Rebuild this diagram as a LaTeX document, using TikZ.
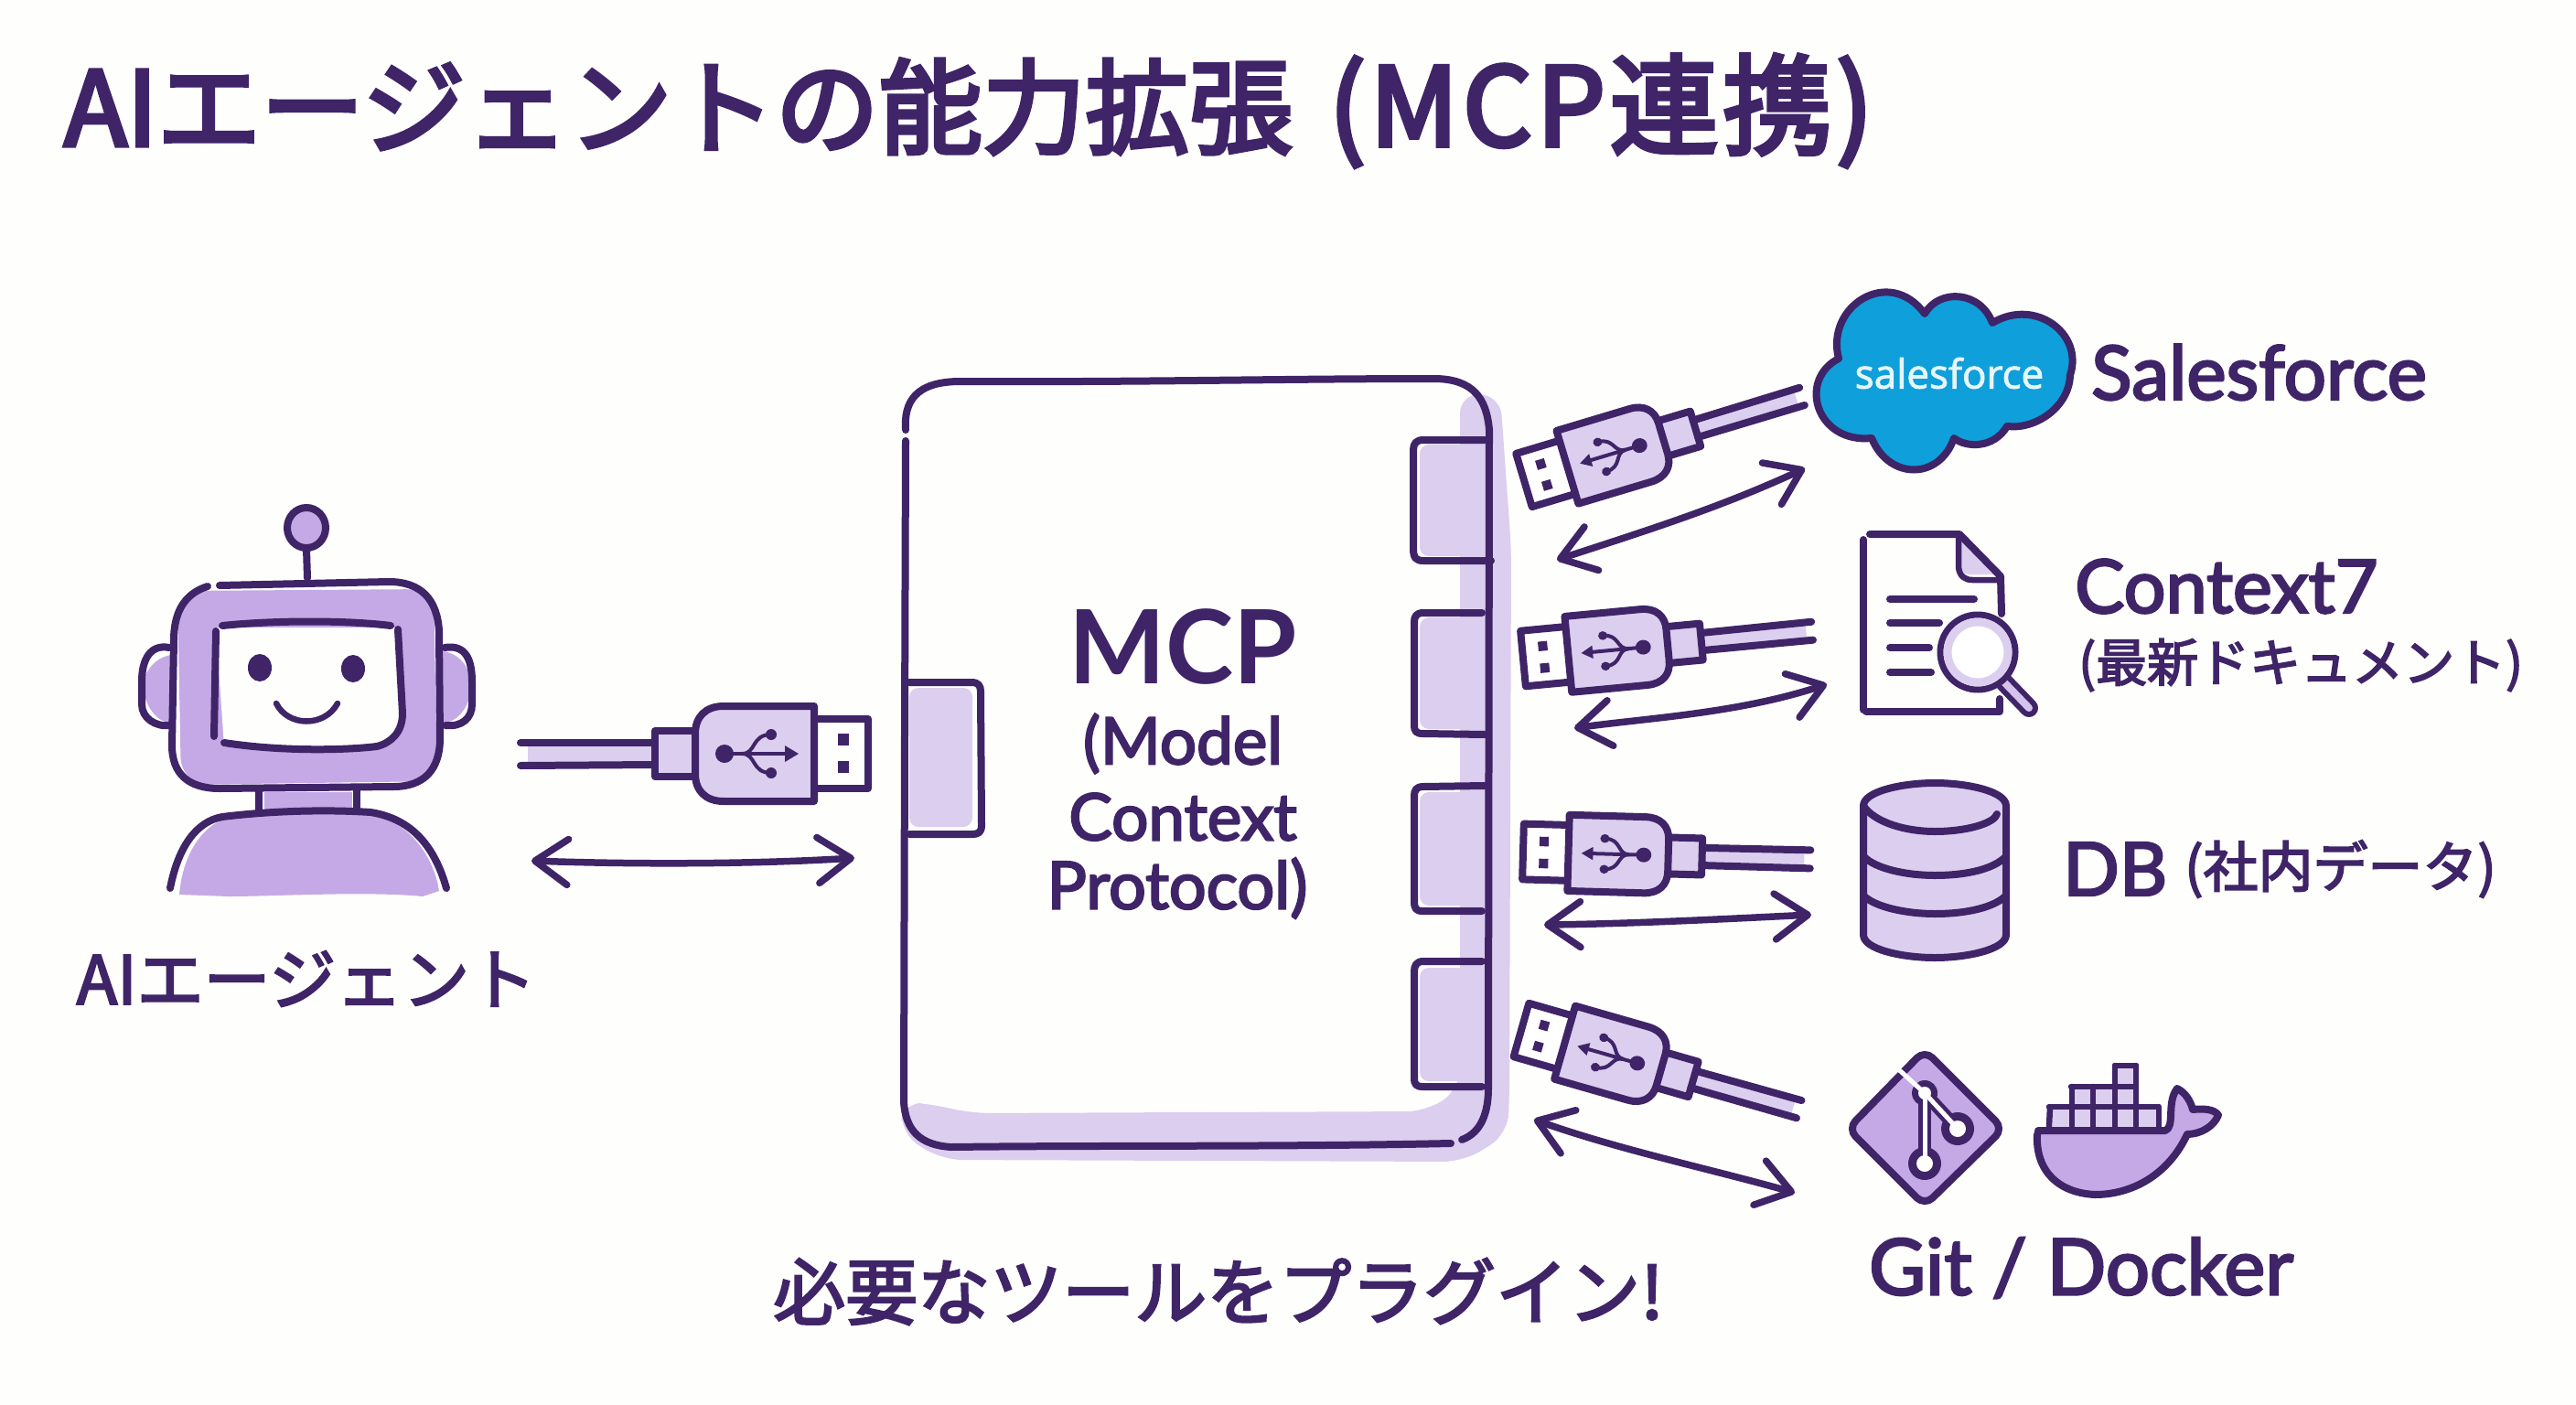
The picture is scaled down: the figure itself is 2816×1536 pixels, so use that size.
\documentclass[tikz,border=0pt]{standalone}
\usepackage{fontspec}
\usetikzlibrary{arrows.meta}
\setmainfont{Lato}
\newfontfamily\jpfont{Noto Sans CJK JP}[FakeBold=3]
\newfontfamily\latmed{Lato}[FakeBold=3]
\newfontfamily\jptitle{Noto Sans CJK JP}[FakeBold=4]
\newfontfamily\jptitlewide{Noto Sans CJK JP}[FakeBold=4,LetterSpace=4]
\newfontfamily\sflogofont{Open Sans}[FakeBold=2]
\definecolor{ink}{HTML}{3F2468}
\definecolor{lilac}{HTML}{C5A9E6}
\definecolor{pale}{HTML}{DCCEEF}
\definecolor{paper}{HTML}{FEFEFC}
\definecolor{sfblue}{HTML}{0F9FDA}
\definecolor{sfwhite}{HTML}{E6F6FB}
\tikzset{
  x=1pt,y=-1pt,
  outl/.style={draw=ink,line width=8pt,line cap=round,line join=round},
  thin outl/.style={draw=ink,line width=6.5pt,line cap=round,line join=round},
  wash/.style={fill=lilac,draw=none},
  palewash/.style={fill=pale,draw=none},
  twoway/.style={ink,line width=7.5pt,line cap=round,line join=round,
    {Straight Barb[length=36pt,width=50pt,round]}-{Straight Barb[length=36pt,width=50pt,round]}},
  label/.style={inner sep=0pt,text=ink,anchor=center},
}
% USB plug: the tip at the origin, the cable running along +x up to #6
\newcommand\usbplug[6]{%
  \begin{scope}[shift={(#1,#2)},rotate=#3,xscale=#4,yscale=#5]
    \fill[pale] (230,-9) rectangle (#6-8,9);
    \draw[outl,fill=white] (59,-38) -- (0,-38) -- (0,38) -- (59,38);
    \fill[ink] (21,-21) rectangle (33,-8);
    \fill[ink] (21,9) rectangle (33,22);
    \draw[outl,fill=pale] (189,-25) -- (233,-25) -- (233,25) -- (189,25);
    \draw[outl,fill=pale] (59,-52) -- (158,-52) .. controls (178,-52) and (189,-40) .. (189,-22)
      -- (189,22) .. controls (189,40) and (178,52) .. (158,52) -- (59,52) -- cycle;
    \draw[outl] (233,-12) -- (#6,-13);
    \draw[outl] (233,12) -- (#6,12);
    \draw[ink,line width=4pt] (84,0) -- (158,0);
    \fill[ink] (157,0) circle (10);
    \fill[ink] (76,0) -- (91,-9) -- (91,9) -- cycle;
    \draw[ink,line width=4pt] (138,0) .. controls (122,0) and (128,-21) .. (106,-21);
    \draw[ink,line width=4pt] (138,0) .. controls (122,0) and (128,21) .. (106,21);
    \fill[ink] (106,-21) circle (6);
    \fill[ink] (106,21) circle (6);
  \end{scope}}
\begin{document}
\begin{tikzpicture}
\useasboundingbox (0,0) rectangle (2816,1536);
\fill[paper] (0,0) rectangle (2816,1536);

% heading
\node[label,anchor=west] (heading) at (70,121)
  {\fontsize{113}{113}\selectfont\jptitle AIエージェントの能力拡張\hspace{40pt}\fontsize{119}{119}\selectfont\jptitlewide (MCP連携)};

% robot: ears, head, screen, face
\fill[wash] (158,740) .. controls (165,725) and (175,718) .. (187,716) -- (187,790) .. controls (172,790) and (162,775) .. (158,760) -- cycle;
\fill[wash] (514,740) .. controls (510,725) and (500,714) .. (484,712) -- (484,790) .. controls (500,790) and (510,775) .. (514,760) -- cycle;
\fill[wash,rounded corners=30] (194,646) -- (474,644) -- (478,854) -- (198,858) -- cycle;
\fill[paper] (236,686) -- (434,686) -- (438,790) .. controls (438,805) and (425,816) .. (412,816) -- (245,816) -- cycle;
\draw[outl] (227,641) .. controls (205,648) and (190,665) .. (190,700) -- (188,815)
  .. controls (188,845) and (205,862) .. (240,862) -- (430,860) .. controls (465,860) and (480,840) .. (481,810)
  -- (480,690) .. controls (478,655) and (460,636) .. (425,636) -- (240,640);
\draw[outl] (243,684) .. controls (300,678) and (380,678) .. (427,684);
\draw[outl] (236,690) -- (234,805);
\draw[outl] (245,812) .. controls (310,822) and (380,820) .. (412,816) .. controls (428,812) and (440,800) .. (440,780) -- (435,688);
\fill[ink] (284,730) ellipse (13 and 15);
\fill[ink] (386,731) ellipse (13 and 15);
\draw[thin outl] (302,769) .. controls (315,795) and (355,795) .. (369,769);
\draw[outl] (335,600) -- (336,632);
\draw[outl,fill=lilac] (335,577) ellipse (21 and 22);
\draw[outl] (185,708) .. controls (165,704) and (155,720) .. (155,745) -- (155,770) .. controls (155,785) and (170,795) .. (186,793);
\draw[outl] (486,708) .. controls (505,705) and (516,715) .. (516,745) -- (516,770) .. controls (516,785) and (505,795) .. (487,793);
% robot: neck and shoulders
\fill[wash] (289,866) rectangle (385,888);
\draw[outl] (283,862) -- (283,888);
\draw[outl] (390,862) -- (390,888);
\fill[wash] (196,978) .. controls (200,930) and (225,895) .. (260,892) .. controls (330,888) and (380,888) .. (410,892) .. controls (450,900) and (475,940) .. (480,974) -- (462,980) .. controls (400,974) and (300,980) .. (250,980) -- cycle;
\draw[outl] (186,971) .. controls (195,925) and (215,898) .. (243,893) .. controls (300,886) and (360,885) .. (405,888) .. controls (450,895) and (475,925) .. (488,971);

\node[label] (agent) at (335,1070)
  {\fontsize{73}{73}\selectfont\jpfont AIエージェント};

% protocol box: soft band along right and bottom edges
\fill[palewash,rounded corners=22] (1596,430) -- (1640,432) -- (1652,600) -- (1650,1200) -- (1648,1240)
  -- (1600,1270) -- (1030,1268) -- (985,1240) -- (986,1205) -- (1020,1207) -- (1060,1217) -- (1560,1215)
  -- (1596,1190) -- cycle;
% the ports
\fill[palewash,rounded corners=10] (1552,486) rectangle (1622,608);
\fill[palewash,rounded corners=10] (1552,675) rectangle (1622,797);
\fill[palewash,rounded corners=10] (1552,866) rectangle (1622,990);
\fill[palewash,rounded corners=10] (1552,1058) rectangle (1622,1182);
\fill[palewash,rounded corners=10] (994,752) rectangle (1063,904);
% box outline, with a small break on the left side and near the lower right corner
\draw[outl] (990,470) .. controls (988,440) and (1000,417) .. (1050,417)
  .. controls (1250,418) and (1400,414) .. (1570,414) .. controls (1610,415) and (1625,435) .. (1628,470)
  -- (1627,1190) .. controls (1627,1215) and (1620,1238) .. (1598,1246);
\draw[outl] (1586,1250) .. controls (1400,1254) and (1200,1252) .. (1040,1254)
  .. controls (1005,1252) and (990,1235) .. (988,1205) -- (989,800) -- (990,482);
\draw[outl] (1623,481) -- (1556,481) .. controls (1548,481) and (1545,485) .. (1545,492) -- (1545,600) .. controls (1545,610) and (1548,613) .. (1556,613) -- (1630,613);
\draw[outl] (1620,670) -- (1556,670) .. controls (1548,670) and (1546,674) .. (1546,680) -- (1546,792) .. controls (1546,800) and (1548,802) .. (1556,802) -- (1623,803);
\draw[outl] (1623,859) -- (1556,860) .. controls (1548,860) and (1546,864) .. (1546,870) -- (1546,985) .. controls (1546,994) and (1548,996) .. (1556,996) -- (1620,996);
\draw[outl] (1620,1051) -- (1556,1051) .. controls (1548,1051) and (1546,1056) .. (1546,1062) -- (1546,1178) .. controls (1546,1186) and (1548,1188) .. (1556,1188) -- (1620,1188);
\draw[outl] (994,746) -- (1062,746) .. controls (1070,746) and (1072,750) .. (1072,756) -- (1073,902) .. controls (1073,910) and (1070,912) .. (1062,912) -- (994,912);

\node[label] (mcp) at (1293,707)
  {\fontsize{112}{112}\selectfont\bfseries MCP};
\node[label] (modelline) at (1293,813)
  {\fontsize{71}{71}\selectfont\latmed (Model};
\node[label] (contextline) at (1293,893)
  {\fontsize{71}{71}\selectfont\latmed Context};
\node[label] (protocolline) at (1287,971)
  {\fontsize{72}{72}\selectfont\latmed Protocol)};

% plugs
\usbplug{949}{824}{180}{1}{1}{380}
\usbplug{1666}{525}{16.7}{.84}{.8}{378}
\usbplug{1665}{720}{5.4}{.84}{.8}{378}
\usbplug{1665}{931}{-1.6}{.84}{.8}{374}
\usbplug{1663}{1126}{-16}{.84}{.8}{376}

% two-way links
\coordinate (agentA) at (581,941);
\coordinate (mcpA) at (934,938);
\coordinate (mcpB) at (1702,612);
\coordinate (sfB) at (1973,512);
\coordinate (mcpC) at (1721,796);
\coordinate (docC) at (1997,748);
\coordinate (mcpD) at (1688,1011);
\coordinate (dbD) at (1980,1000);
\coordinate (mcpE) at (1677,1224);
\coordinate (gitE) at (1962,1304);
\draw[twoway] (agentA) .. controls (690,945) and (820,945) .. (mcpA);
\draw[twoway] (mcpB) .. controls (1800,580) and (1880,555) .. (sfB);
\draw[twoway] (mcpC) .. controls (1800,785) and (1900,780) .. (docC);
\draw[twoway] (mcpD) .. controls (1780,1010) and (1880,1005) .. (dbD);
\draw[twoway] (mcpE) .. controls (1770,1257) and (1870,1278) .. (gitE);

% cloud
\draw[draw=ink,line width=8pt,line join=round,fill=sfblue]
  (2010,392) .. controls (1995,335) and (2065,290) .. (2104,343)
  .. controls (2120,315) and (2165,318) .. (2178,353)
  .. controls (2225,325) and (2278,365) .. (2263,410)
  .. controls (2262,445) and (2225,470) .. (2194,466)
  .. controls (2180,490) and (2150,490) .. (2136,479)
  .. controls (2120,525) and (2065,525) .. (2046,479)
  .. controls (1985,485) and (1965,415) .. cycle;
\node[label,text=sfwhite] (sflogo) at (2131,408)
  {\fontsize{44}{44}\selectfont\sflogofont salesforce};
\node[label,anchor=west] (sftext) at (2286,407)
  {\fontsize{82}{82}\selectfont\latmed Salesforce};

% document with magnifier
\fill[pale] (2142,588) -- (2184,628) -- (2152,628) .. controls (2146,628) and (2142,622) .. (2142,615) -- cycle;
\draw[outl] (2037,590) -- (2037,776);
\draw[outl] (2044,584) -- (2142,584) -- (2187,630) -- (2188,671);
\draw[outl] (2040,778) -- (2186,778) -- (2186,764);
\draw[thin outl] (2141,586) -- (2141,620) .. controls (2142,630) and (2148,634) .. (2156,634) -- (2187,634);
\draw[outl] (2066,655) -- (2158,655);
\draw[outl] (2066,681) -- (2120,681);
\draw[outl] (2066,708) -- (2109,708);
\draw[outl] (2066,735) -- (2111,735);
\draw[ink,line width=20pt,line cap=round] (2191,746) -- (2218,774);
\draw[lilac!70!white,line width=8pt,line cap=round] (2191,746) -- (2218,774);
\draw[outl,fill=white,line width=7pt] (2162,713) circle (41);
\draw[pale,line width=9pt] (2162,713) circle (33);

% database
\draw[outl,fill=pale] (2037,881) .. controls (2037,865) and (2080,856) .. (2115,856) .. controls (2150,856) and (2193,865) .. (2193,881)
  -- (2193,1022) .. controls (2193,1038) and (2150,1047) .. (2115,1047) .. controls (2080,1047) and (2037,1038) .. (2037,1022) -- cycle;
\draw[outl] (2037,881) .. controls (2050,900) and (2085,909) .. (2115,909) .. controls (2150,909) and (2180,900) .. (2183,890);
\draw[outl] (2037,936) .. controls (2050,950) and (2085,957) .. (2115,957) .. controls (2150,957) and (2180,950) .. (2193,936);
\draw[outl] (2037,979) .. controls (2050,992) and (2085,999) .. (2115,999) .. controls (2150,999) and (2180,992) .. (2193,979);
\node[label,anchor=west] (ctxtext) at (2268,641)
  {\fontsize{81}{81}\selectfont\latmed Context7};
\node[label,anchor=west] (ctxsub) at (2272,727)
  {\fontsize{56}{56}\selectfont\jpfont (最新ドキュメント)};
\node[label,anchor=west] (dbtext) at (2255,950)
  {\fontsize{81}{81}\selectfont\latmed DB};
\node[label,anchor=west] (dbsub) at (2388,950)
  {\fontsize{60}{60}\selectfont\jpfont (社内データ)};

% git mark
\draw[outl,fill=lilac,rounded corners=12] (2104,1148) -- (2190,1234) -- (2104,1318) -- (2020,1234) -- cycle;
\draw[ink,line width=14pt] (2104,1195) -- (2140,1234);
\draw[ink,line width=14pt] (2104,1195) -- (2104,1272);
\fill[ink] (2104,1195) circle (14);
\fill[ink] (2140,1234) circle (18);
\fill[ink] (2104,1272) circle (18);
\draw[paper,line width=5pt] (2072,1166) -- (2104,1195) -- (2140,1234);
\draw[paper,line width=5pt] (2104,1195) -- (2104,1272);
\fill[paper] (2104,1195) circle (7);
\fill[paper] (2140,1234) circle (9);
\fill[paper] (2104,1272) circle (9);

% whale and containers
\draw[outl,fill=lilac] (2228,1236) -- (2367,1236) .. controls (2378,1232) and (2368,1205) .. (2380,1190)
  .. controls (2390,1195) and (2395,1205) .. (2397,1213) .. controls (2408,1212) and (2420,1212) .. (2425,1219)
  .. controls (2420,1232) and (2405,1240) .. (2391,1240) .. controls (2370,1285) and (2330,1306) .. (2290,1306)
  .. controls (2250,1304) and (2225,1280) .. (2227,1240);
\fill[pale] (2244,1212) rectangle (2358,1232);
\fill[pale] (2266,1190) rectangle (2334,1210);
\fill[pale] (2314,1167) rectangle (2334,1188);
\draw[thin outl] (2240,1210) -- (2358,1210);
\draw[thin outl] (2264,1188) -- (2334,1188);
\draw[thin outl] (2312,1165) -- (2335,1165);
\draw[thin outl] (2241,1210) -- (2240,1232);
\draw[thin outl] (2265,1188) -- (2265,1232);
\draw[thin outl] (2288,1188) -- (2288,1232);
\draw[thin outl] (2312,1165) -- (2312,1232);
\draw[thin outl] (2335,1165) -- (2335,1232);
\draw[thin outl] (2360,1210) -- (2360,1232);

\node[label] (gittext) at (2275,1386)
  {\fontsize{85}{85}\selectfont\latmed Git / Docker};
\node[label] (pluginline) at (1332,1412)
  {\fontsize{79}{79}\selectfont\jpfont 必要なツールをプラグイン!};
\end{tikzpicture}
\end{document}
